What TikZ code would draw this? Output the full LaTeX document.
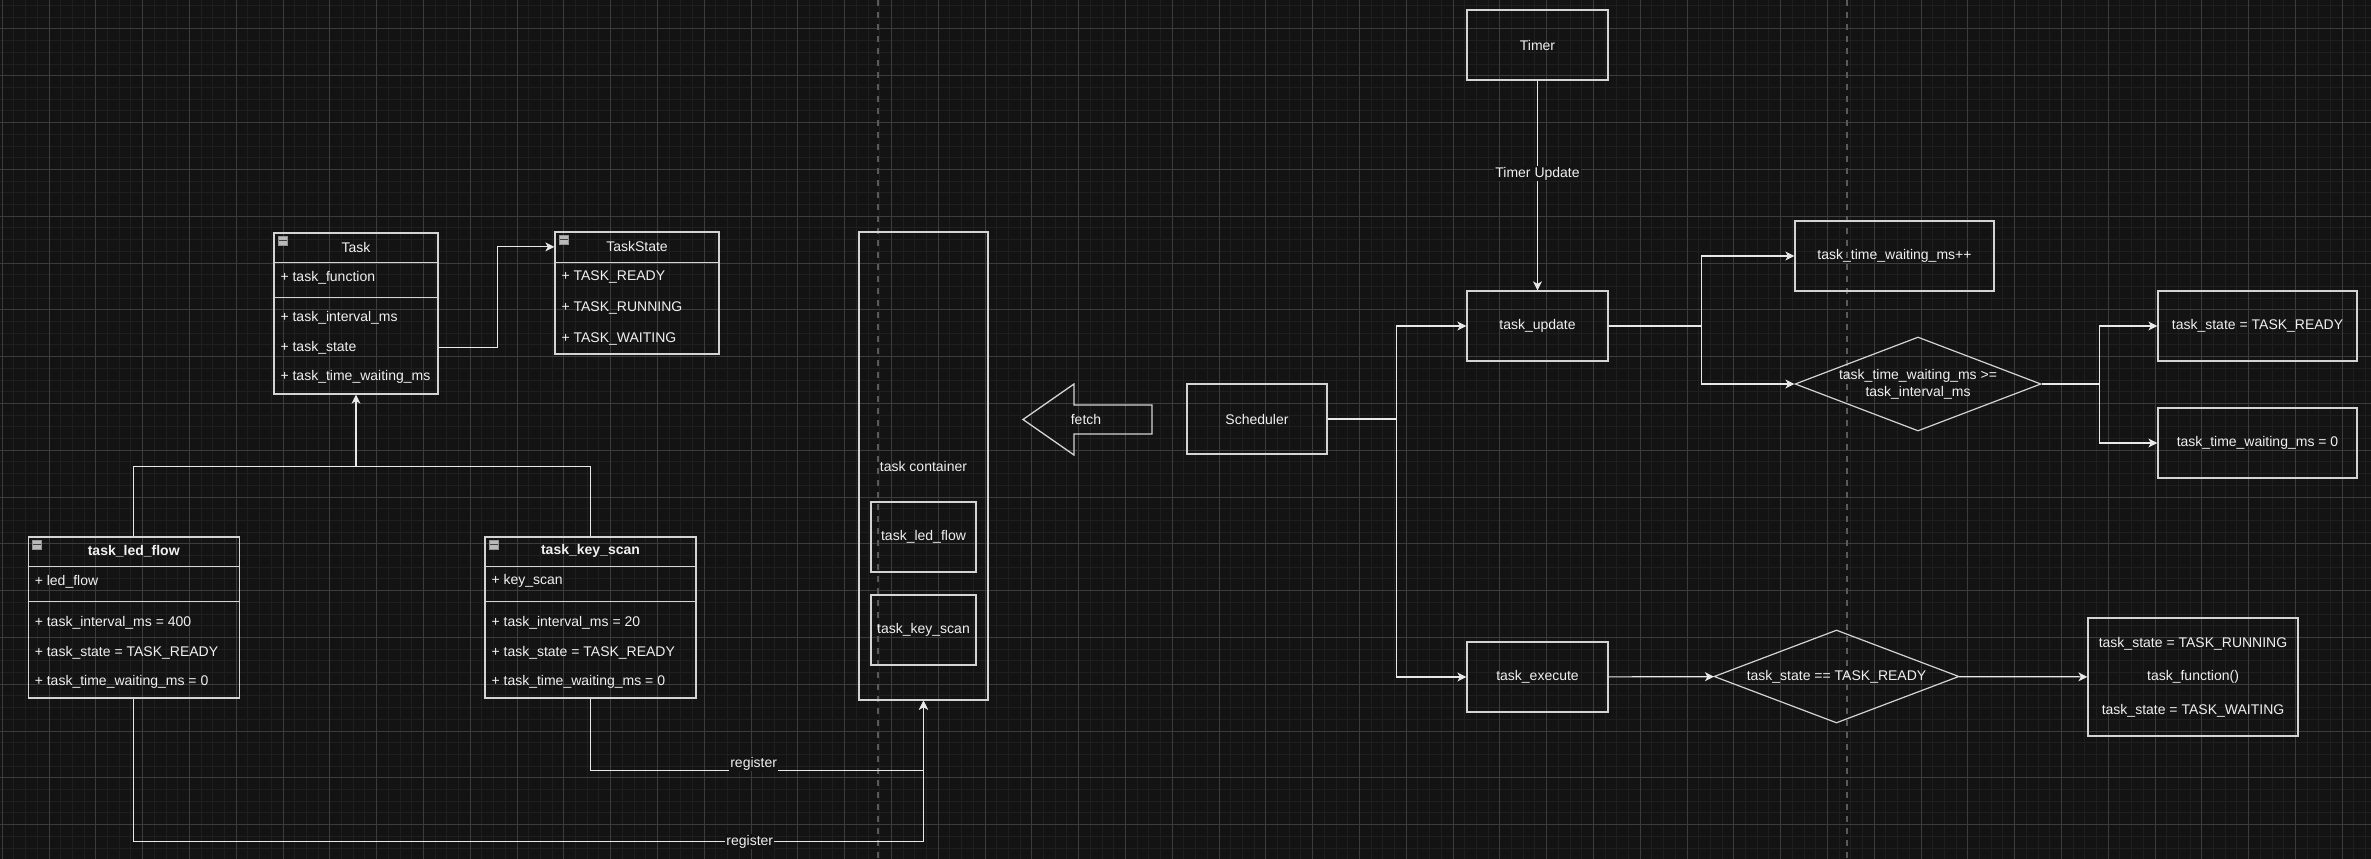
\documentclass[tikz,border=0pt]{standalone}
\usepackage{fontspec}
\setmainfont{Liberation Sans}
\usepackage{tikz}
\usetikzlibrary{calc,arrows.meta,positioning,shapes.geometric}
\definecolor{bgc}{HTML}{131313}
\definecolor{gminor}{HTML}{1F1F1F}
\definecolor{gmajor}{HTML}{3C3C3C}
\definecolor{pagec}{HTML}{5A5A5A}
\definecolor{boxc}{HTML}{D4D4D4}
\definecolor{linec}{HTML}{E8E8E8}
\definecolor{txtc}{HTML}{F0F0F0}
\newcommand{\fsz}{\fontsize{14}{17}\selectfont}
\tikzset{
  bx/.style={draw=boxc,line width=1.3pt,text=txtc,font=\fsz,inner sep=0pt,align=center},
  cls/.style={draw=boxc,line width=1.3pt,inner sep=0pt},
  row/.style={text=txtc,font=\fsz,inner sep=0pt,anchor=west},
  ttl/.style={text=txtc,font=\fsz,inner sep=0pt},
  dm/.style={diamond,aspect=2.6,draw=boxc,line width=1.2pt,text=txtc,font=\fsz,inner sep=0pt,align=center},
  ln/.style={draw=linec,line width=1.2pt},
  ar/.style={ln,-{Stealth[length=9pt,width=9pt,inset=2.5pt]}},
  lbl/.style={fill=bgc,text=txtc,font=\fsz,inner sep=1pt},
  ico/.style={draw=gray!85,fill=gray!55,minimum width=9pt,minimum height=9pt,inner sep=0pt,
    path picture={\draw[black!75,line width=1.5pt] (path picture bounding box.west) -- (path picture bounding box.east);}}
}

\begin{document}
\begin{tikzpicture}[x=1pt,y=-1pt]
\useasboundingbox[fill=bgc] (0,0) rectangle (2371,859);
\clip (0,0) rectangle (2371,859);
% grid
\foreach \k in {0,...,202} \draw[gminor,line width=1pt] ({2.2+11.7*\k},0) -- ++(0,859);
\foreach \k in {0,...,73} \draw[gminor,line width=1pt] (0,{5.6+11.7*\k}) -- ++(2371,0);
\foreach \k in {0,...,50} \draw[gmajor,line width=1pt] ({2.2+46.8*\k},0) -- ++(0,859);
\foreach \k in {0,...,17} \draw[gmajor,line width=1pt] (0,{29+46.8*\k}) -- ++(2371,0);
\draw[pagec,line width=1.5pt,dash pattern=on 6pt off 6pt] (878,0) -- (878,859);
\draw[pagec,line width=1.5pt,dash pattern=on 6pt off 6pt] (1847,0) -- (1847,859);

% class Task
\node[cls,minimum width=164,minimum height=161] (task) at (356,313.5) {};
\node[ico] (task-i) at ($(task.north west)+(9,8)$) {};
\node[ttl] (task-t) at ($(task.north)+(0,15)$) {Task};
\draw[cls] ($(task.north west)+(0,30)$) -- ($(task.north east)+(0,30)$);
\node[row] (task-f) at ($(task.north west)+(7,45)$) {+ task\_function};
\draw[cls] ($(task.north west)+(0,65)$) -- ($(task.north east)+(0,65)$);
\foreach \t [count=\i] in {task\_interval\_ms,task\_state,task\_time\_waiting\_ms}
  \node[row] (task-r\i) at ($(task.north west)+(7,{55+30*\i})$) {+ \t};

% class TaskState
\node[cls,minimum width=164,minimum height=122] (tstate) at (637,293) {};
\node[ico] (tstate-i) at ($(tstate.north west)+(9,8)$) {};
\node[ttl] (tstate-t) at ($(tstate.north)+(0,15.5)$) {TaskState};
\draw[cls] ($(tstate.north west)+(0,31)$) -- ($(tstate.north east)+(0,31)$);
\foreach \t [count=\i] in {TASK\_READY,TASK\_RUNNING,TASK\_WAITING}
  \node[row] (tstate-r\i) at ($(tstate.north west)+(7,{15+31*\i})$) {+ \t};

% objects
\node[cls,minimum width=211,minimum height=161] (ledf) at (133.75,617.5) {};
\node[ico] (ledf-i) at ($(ledf.north west)+(9,8)$) {};
\node[ttl] (ledf-t) at ($(ledf.north)+(0,15)$) {\textbf{task\_led\_flow}};
\draw[cls] ($(ledf.north west)+(0,30)$) -- ($(ledf.north east)+(0,30)$);
\node[row] (ledf-f) at ($(ledf.north west)+(7,45)$) {+ led\_flow};
\draw[cls] ($(ledf.north west)+(0,65)$) -- ($(ledf.north east)+(0,65)$);
\foreach \t [count=\i] in {task\_interval\_ms = 400,task\_state = TASK\_READY,task\_time\_waiting\_ms = 0}
  \node[row] (ledf-r\i) at ($(ledf.north west)+(7,{56+30*\i})$) {+ \t};

\node[cls,minimum width=211,minimum height=161] (keys) at (590.5,617.5) {};
\node[ico] (keys-i) at ($(keys.north west)+(9,8)$) {};
\node[ttl] (keys-t) at ($(keys.north)+(0,15)$) {\textbf{task\_key\_scan}};
\draw[cls] ($(keys.north west)+(0,30)$) -- ($(keys.north east)+(0,30)$);
\node[row] (keys-f) at ($(keys.north west)+(7,45)$) {+ key\_scan};
\draw[cls] ($(keys.north west)+(0,65)$) -- ($(keys.north east)+(0,65)$);
\foreach \t [count=\i] in {task\_interval\_ms = 20,task\_state = TASK\_READY,task\_time\_waiting\_ms = 0}
  \node[row] (keys-r\i) at ($(keys.north west)+(7,{56+30*\i})$) {+ \t};

\draw[ar] (task.east |- task-r2) -- ++(59,0) |- (tstate.west |- tstate-t);
\coordinate (inh) at ($(task.south)+(0,72)$);
\draw[ln] (ledf.north) |- (inh);
\draw[ln] (keys.north) |- (inh);
\draw[ar] (inh) -- (task.south);

% container
\node[bx,minimum width=129,minimum height=468] (cont) at (923.5,466) {task container};
\node[bx,minimum width=105,minimum height=70] (c-led) at (923.5,537) {task\_led\_flow};
\node[bx,minimum width=105,minimum height=70] (c-key) at (923.5,630) {task\_key\_scan};
\draw[ar] (keys.south) -- ++(0,72) -| node[lbl,pos=0.245,yshift=7pt]{register} (cont.south);
\draw[ar] (ledf.south) -- ++(0,143) -| node[lbl,pos=0.39]{register} (cont.south);

\draw[cls] (1152,405) -- (1074,405) -- (1074,384) -- (1023,419.5) -- (1074,455) -- (1074,434) -- (1152,434) -- cycle;
\node[ttl] (fetch) at (1086,419.5) {fetch};

% scheduler side
\node[bx,minimum width=141,minimum height=70] (timer) at (1537.5,45) {Timer};
\node[bx,minimum width=141,minimum height=70] (tupd) at (1537.5,326) {task\_update};
\node[bx,minimum width=140,minimum height=70] (sched) at (1257,419) {Scheduler};
\node[bx,minimum width=141,minimum height=70] (texec) at (1537.5,677) {task\_execute};
\node[bx,minimum width=199,minimum height=70] (tinc) at (1894.5,256) {task\_time\_waiting\_ms++};
\node[dm,minimum width=246,minimum height=94] (chk1) at (1918,384) {task\_time\_waiting\_ms >=\\task\_interval\_ms};
\node[bx,minimum width=199,minimum height=70] (setrdy) at (2257.5,326) {task\_state = TASK\_READY};
\node[bx,minimum width=199,minimum height=70] (rst0) at (2257.5,443) {task\_time\_waiting\_ms = 0};
\node[dm,minimum width=245,minimum height=93] (chk2) at (1836.5,676.5) {task\_state == TASK\_READY};
\node[bx,minimum width=210,minimum height=118,font=\fontsize{14}{33.5}\selectfont] (run) at (2193,677)
  {task\_state = TASK\_RUNNING\\task\_function()\\task\_state = TASK\_WAITING};

\draw[ar] (timer) -- node[lbl,pos=0.445]{Timer Update} (tupd);
\coordinate (sj) at ($(sched.east)+(69,0)$);
\draw[ln] (sched.east) -- (sj);
\draw[ar] (sj) |- (tupd.west);
\draw[ar] (sj) |- (texec.west);
\coordinate (uj) at ($(tupd.east)+(93,0)$);
\draw[ln] (tupd.east) -- (uj);
\draw[ar] (uj) |- (tinc.west);
\draw[ar] (uj) |- (chk1.west);
\coordinate (cj) at ($(chk1.east)+(58,0)$);
\draw[ln] (chk1.east) -- (cj);
\draw[ar] (cj) |- (setrdy.west);
\draw[ar] (cj) |- (rst0.west);
\draw[ar] (texec) -- (chk2);
\draw[ar] (chk2) -- (run);
\end{tikzpicture}
\end{document}
